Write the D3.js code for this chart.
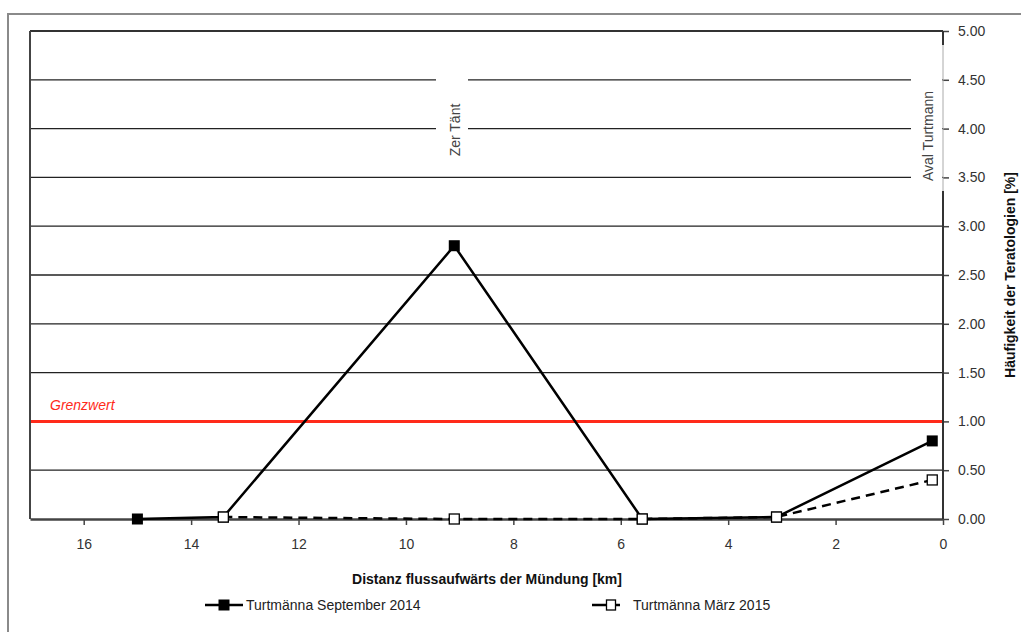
<!DOCTYPE html>
<html><head><meta charset="utf-8">
<script src="https://cdn.jsdelivr.net/npm/d3@7"></script>
<style>body{margin:0;background:#fff;} svg{display:block;font-family:"Liberation Sans",Arial,sans-serif;}</style>
</head><body>
<script>
// Data
const distSep2014 = [15.0, 13.4, 9.1, 5.6, 3.1, 0.2];
const valSep2014  = [0.00, 0.02, 2.80, 0.00, 0.02, 0.80];
const distMar2015 = [13.4, 9.1, 5.6, 3.1, 0.2];
const valMar2015  = [0.02, 0.00, 0.00, 0.02, 0.40];
const xTicks = [16, 14, 12, 10, 8, 6, 4, 2, 0];
const yTicks = [0, 0.5, 1, 1.5, 2, 2.5, 3, 3.5, 4, 4.5, 5];
const grenzwert = 1.0;
const sites = [{name: "Zer Tänt", km: 9.1}, {name: "Aval Turtmann", km: 0.32}];
const seriesNames = ["Turtmänna September 2014", "Turtmänna März 2015"];

const W = 1021, H = 632;
const svg = d3.select("body").append("svg").attr("width", W).attr("height", H);
const L = 30, R = 943, T = 31, B = 519;
const x = d3.scaleLinear().domain([17, 0]).range([L, R]);
const y = d3.scaleLinear().domain([0, 5]).range([B, T]);

// outer frame
svg.append("rect").attr("x", 8).attr("y", 14).attr("width", 1030).attr("height", 650)
  .attr("fill", "none").attr("stroke", "#8a8a8a").attr("stroke-width", 2);

// grid
svg.append("g").selectAll("line").data(yTicks.filter(d => d > 0)).join("line")
  .attr("x1", L).attr("x2", R).attr("y1", d => y(d)).attr("y2", d => y(d))
  .attr("stroke", d => d === 5 ? "#333" : "#222").attr("stroke-width", d => d === 5 ? 2 : 1.3);

// site label boxes
const boxes = [{x0: 436, x1: 468, y0: 60, y1: 150}, {x0: 911, x1: 942, y0: 45, y1: 191}];
sites.forEach((s, i) => {
  const b = boxes[i];
  svg.append("rect").attr("x", b.x0).attr("y", b.y0).attr("width", b.x1 - b.x0).attr("height", b.y1 - b.y0).attr("fill", "#fff");
});
const siteCy = [130, 136];
const siteBase = [460, 933];
sites.forEach((s, i) => {
  svg.append("text").attr("transform", `translate(${siteBase[i]},${siteCy[i]}) rotate(-90)`)
    .attr("text-anchor", "middle").attr("font-size", 14).attr("fill", "#444").text(s.name);
});

// Grenzwert
svg.append("line").attr("x1", L).attr("x2", R).attr("y1", y(grenzwert)).attr("y2", y(grenzwert))
  .attr("stroke", "#ff2a1a").attr("stroke-width", 3);
svg.append("text").attr("x", 50).attr("y", y(grenzwert) - 11).attr("fill", "#ff2a1a")
  .attr("font-size", 14).attr("font-style", "italic").text("Grenzwert");

// left border
svg.append("line").attr("x1", L).attr("x2", L).attr("y1", T).attr("y2", B).attr("stroke", "#444").attr("stroke-width", 2);

// x axis
const xAxis = svg.append("g").attr("transform", `translate(0,${B})`)
  .call(d3.axisBottom(x).tickValues(xTicks).tickFormat(d3.format("d")).tickSize(6).tickPadding(14).tickSizeOuter(0));
xAxis.select(".domain").attr("stroke", "#444").attr("stroke-width", 2.5);
xAxis.selectAll(".tick line").attr("stroke", "#444").attr("stroke-width", 1.5);
xAxis.selectAll("text").attr("font-size", 14).attr("fill", "#333").attr("font-family", "Liberation Sans, Arial");

// y axis right
const yAxis = svg.append("g").attr("transform", `translate(${R},0)`)
  .call(d3.axisRight(y).tickValues(yTicks).tickFormat(d3.format(".2f")).tickSize(6).tickPadding(9).tickSizeOuter(0));
yAxis.select(".domain").remove();
yAxis.selectAll(".tick line").attr("stroke", "#444").attr("stroke-width", 1.5);
yAxis.selectAll("text").attr("font-size", 14).attr("fill", "#333").attr("font-family", "Liberation Sans, Arial");
// axis line, lighter behind the Aval Turtmann label
svg.append("line").attr("x1", R).attr("x2", R).attr("y1", T).attr("y2", 45).attr("stroke", "#333").attr("stroke-width", 2);
svg.append("line").attr("x1", R).attr("x2", R).attr("y1", 45).attr("y2", 191).attr("stroke", "#aaa").attr("stroke-width", 1);
svg.append("line").attr("x1", R).attr("x2", R).attr("y1", 191).attr("y2", B).attr("stroke", "#333").attr("stroke-width", 2);

// series
const line = d3.line().x(d => x(d[0])).y(d => y(d[1]));
const s1 = distSep2014.map((d, i) => [d, valSep2014[i]]);
const s2 = distMar2015.map((d, i) => [d, valMar2015[i]]);
svg.append("path").datum(s1).attr("d", line).attr("fill", "none").attr("stroke", "#000").attr("stroke-width", 2.5);
svg.append("path").datum(s2).attr("d", line).attr("fill", "none").attr("stroke", "#000").attr("stroke-width", 2.5).attr("stroke-dasharray", "9,6");
const ms = 11;
svg.append("g").selectAll("rect").data(s1).join("rect")
  .attr("x", d => x(d[0]) - ms / 2).attr("y", d => y(d[1]) - ms / 2).attr("width", ms).attr("height", ms).attr("fill", "#000");
svg.append("g").selectAll("rect").data(s2).join("rect")
  .attr("x", d => x(d[0]) - ms / 2 + 0.5).attr("y", d => y(d[1]) - ms / 2 + 0.5).attr("width", ms - 1).attr("height", ms - 1)
  .attr("fill", "#fff").attr("stroke", "#000").attr("stroke-width", 1.3);

// axis titles
svg.append("text").attr("x", 487).attr("y", 584).attr("text-anchor", "middle").attr("font-size", 14).attr("font-weight", "bold").attr("fill", "#111")
  .text("Distanz flussaufwärts der Mündung [km]");
svg.append("text").attr("transform", "translate(1015,275) rotate(-90)").attr("text-anchor", "middle").attr("font-size", 14).attr("font-weight", "bold").attr("fill", "#111")
  .text("Häufigkeit der Teratologien [%]");

// legend
const lg = svg.append("g");
lg.append("line").attr("x1", 205).attr("x2", 243).attr("y1", 605).attr("y2", 605).attr("stroke", "#000").attr("stroke-width", 2.5);
lg.append("rect").attr("x", 224 - 5.5).attr("y", 605 - 5.5).attr("width", 11).attr("height", 11).attr("fill", "#000");
lg.append("text").attr("x", 246).attr("y", 610).attr("font-size", 14).attr("fill", "#222").text(seriesNames[0]);
lg.append("line").attr("x1", 592).attr("x2", 607).attr("y1", 605).attr("y2", 605).attr("stroke", "#000").attr("stroke-width", 2.5);
lg.append("line").attr("x1", 615).attr("x2", 620).attr("y1", 605).attr("y2", 605).attr("stroke", "#000").attr("stroke-width", 2.5);
lg.append("rect").attr("x", 606.5).attr("y", 600).attr("width", 9).attr("height", 10).attr("fill", "#fff").attr("stroke", "#000").attr("stroke-width", 1.3);
lg.append("text").attr("x", 633).attr("y", 610).attr("font-size", 14).attr("fill", "#222").text(seriesNames[1]);
</script>
</body></html>
